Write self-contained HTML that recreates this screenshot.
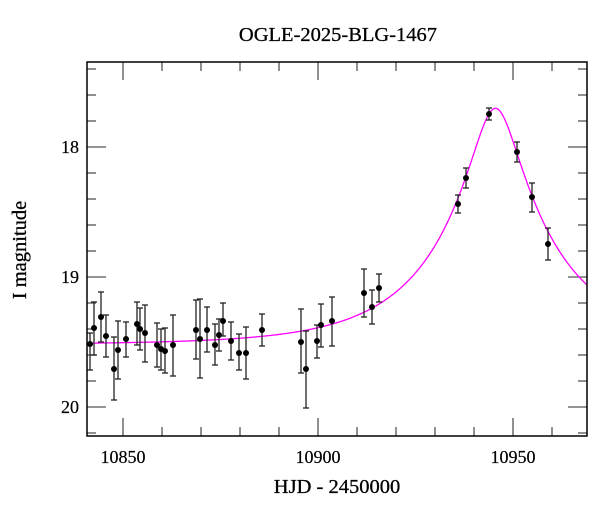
<!DOCTYPE html>
<html><head><meta charset="utf-8"><style>
html,body{margin:0;padding:0;background:#fff;}
svg text{font-family:"Liberation Serif",serif;fill:#000;}
</style></head><body>
<svg id="s" width="600" height="512" xmlns="http://www.w3.org/2000/svg">
<rect width="600" height="512" fill="#fff"/>
<text x="338" y="41" font-size="20.5" text-anchor="middle" stroke="#000" stroke-width="0.3">OGLE-2025-BLG-1467</text>
<text x="337" y="493" font-size="20.5" text-anchor="middle" stroke="#000" stroke-width="0.3">HJD - 2450000</text>
<text transform="translate(26,250) rotate(-90)" font-size="20.5" text-anchor="middle" stroke="#000" stroke-width="0.3">I magnitude</text>
<g font-size="18" text-anchor="end" stroke="#000" stroke-width="0.2">
<text x="79" y="153">18</text><text x="79" y="283">19</text><text x="79" y="413">20</text>
</g>
<g font-size="18" text-anchor="middle" stroke="#000" stroke-width="0.2">
<text x="123" y="463">10850</text><text x="318" y="463">10900</text><text x="513" y="463">10950</text>
</g>
<g id="ticks" stroke="#555" stroke-width="1.3"></g>
<g id="curve"></g>
<g id="pts"></g>
<rect x="87" y="62" width="500" height="374" fill="none" stroke="#000" stroke-width="1.5"/>
</svg>
<script>
var NS="http://www.w3.org/2000/svg";
function el(p,t,a){var e=document.createElementNS(NS,t);for(var k in a)e.setAttribute(k,a[k]);p.appendChild(e);return e;}
var tk=document.getElementById("ticks");
function X(t){return 123+(t-10850)*3.9;}
function Y(m){return 147+(m-18)*130;}
for(var t=10850;t<=10960;t+=10){var x=X(t);var L=(t%50==0)?18:9;
el(tk,"line",{x1:x,y1:62,x2:x,y2:62+L});el(tk,"line",{x1:x,y1:436,x2:x,y2:436-L});}
for(var i=0;i<15;i++){var m=17.4+i*0.2;var y=Y(m);if(y<62||y>436)continue;var maj=Math.abs(m-Math.round(m))<0.01;var L=maj?19:9;
el(tk,"line",{x1:87,y1:y,x2:87+L,y2:y});el(tk,"line",{x1:587,y1:y,x2:587-L,y2:y});}
var d="";for(var x=87;x<=587;x+=1){var t=10850+(x-123)/3.9;var u0=0.19,tE=30,t0=10945.5;
var tau=(t-t0)/tE;var u=Math.sqrt(u0*u0+tau*tau);var A=(u*u+2)/(u*Math.sqrt(u*u+4));
var m=19.52-2.5*Math.log10(A);d+=(x==87?"M":"L")+x+","+Y(m).toFixed(2);}
el(document.getElementById("curve"),"path",{d:d,fill:"none",stroke:"#f0f",'stroke-width':1.3});
var P=[[90,344,333,370],[94,328,302,355],[101,317,292,342],[106,336,315,357],[114,369,337,400],[118,350,321,379],[126,339,322,357],[137,324,302,345],[140,329,308,350],[145,333,305,362],[157,345,323,367],[161,349,329,370],[165,351,328,373],[173,345,315,376],[196,330,300,359],[200,339,299,378],[207,330,307,352],[215,345,324,365],[219,335,319,351],[223,321,303,336],[231,341,322,360],[239,353,334,370],[246,353,327,379],[262,330,314,346],[301,342,309,373],[306,369,331,408],[317,341,325,358],[321,325,304,347],[332,321,297,346],[364,293,269,317],[372,307,290,324],[379,288,274,302],[458,204,195,213],[466,178,168,188],[489,114,108,120],[517,152,142,162],[532,197,183,212],[548,244,228,260]];
var g=document.getElementById("pts");
P.forEach(function(p){el(g,"line",{x1:p[0],y1:p[2],x2:p[0],y2:p[3],stroke:"#222",'stroke-width':1.3});
el(g,"line",{x1:p[0]-3,y1:p[2],x2:p[0]+3,y2:p[2],stroke:"#222",'stroke-width':1.3});
el(g,"line",{x1:p[0]-3,y1:p[3],x2:p[0]+3,y2:p[3],stroke:"#222",'stroke-width':1.3});
el(g,"circle",{cx:p[0],cy:p[1],r:3,fill:"#000"});});
</script>
</body></html>
